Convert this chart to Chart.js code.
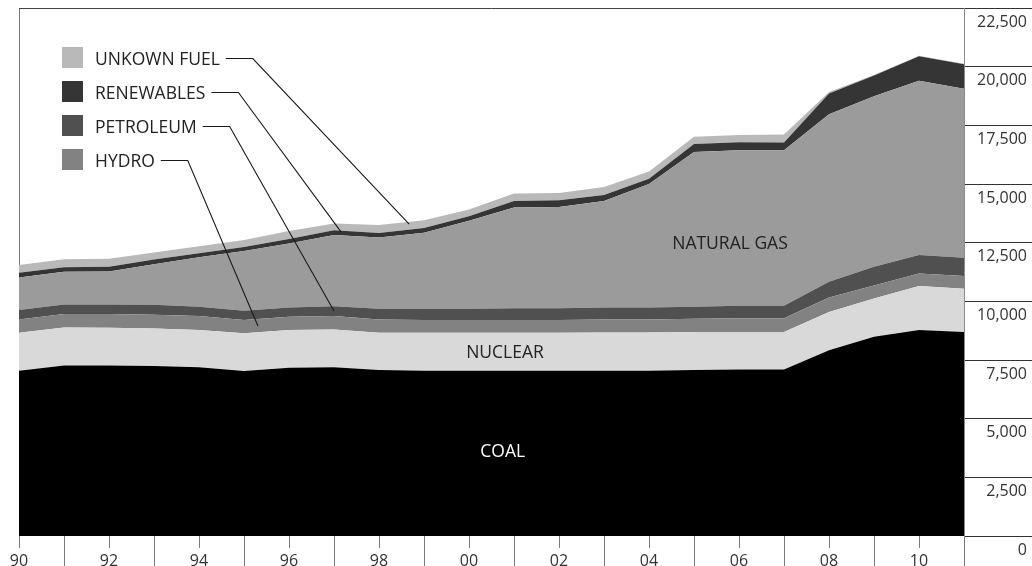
<!DOCTYPE html>
<html>
<head>
<meta charset="utf-8">
<script src="https://cdn.jsdelivr.net/npm/chart.js@4.4.1/dist/chart.umd.min.js"></script>
<style>
  html, body { margin: 0; padding: 0; background: #fff; }
  #wrap { width: 1032px; height: 566px; }
</style>
</head>
<body>
<div id="wrap"><canvas id="c" width="1032" height="566"></canvas></div>
<script>
// ---- Data ----
const years = ['90','91','92','93','94','95','96','97','98','99','00','01','02','03','04','05','06','07','08','09','10','11'];

const coal       = [7040, 7270, 7270, 7240, 7190, 7030, 7170, 7190, 7070, 7040, 7040, 7040, 7040, 7040, 7040, 7070, 7100, 7100, 7920, 8490, 8780, 8690];
const nuclear    = [1620, 1620, 1605, 1605, 1590, 1605, 1605, 1615, 1590, 1620, 1620, 1620, 1620, 1635, 1635, 1620, 1590, 1590, 1630, 1635, 1870, 1845];
const hydro      = [570, 565, 580, 580, 595, 570, 565, 565, 570, 540, 540, 540, 540, 555, 555, 570, 585, 585, 615, 555, 540, 540];
const petroleum  = [400, 415, 415, 425, 395, 395, 400, 425, 450, 480, 480, 500, 510, 510, 510, 510, 535, 535, 665, 790, 780, 780];
const naturalGas = [1390, 1390, 1405, 1735, 2105, 2545, 2725, 3035, 3040, 3240, 3750, 4300, 4315, 4540, 5255, 6590, 6630, 6630, 7145, 7270, 7425, 7200];
const renewables = [200, 190, 195, 200, 170, 170, 195, 200, 195, 200, 200, 280, 285, 255, 225, 340, 340, 325, 880, 880, 1050, 1050];
const unknownFuel = [330, 340, 340, 300, 300, 300, 340, 285, 340, 340, 285, 315, 310, 340, 315, 310, 310, 340, 70, 25, 20, 20];

const yMax = 22500;
const yStep = 2500;

// legend entries with leader targets (in data units: year index, value)
const legendLabels  = ['UNKOWN FUEL', 'RENEWABLES', 'PETROLEUM', 'HYDRO'];
const legendColors  = ['#b9b9b9', '#353535', '#505050', '#828282'];
const leaderIndex   = [8.67, 7.16, 7.0, 5.31];
const leaderValue   = [13290, 12950, 9585, 8946];

// in-chart series labels (data units)
const areaLabels    = ['NATURAL GAS', 'NUCLEAR', 'COAL'];
const areaLabelIdx  = [15.8, 10.8, 10.75];
const areaLabelVal  = [12480, 7840, 3620];
const areaLabelCol  = ['#222', '#222', '#fff'];

const FONT = '"Open Sans", "Noto Sans", sans-serif';

function ds(label, data, color, fill) {
  return {
    label, data,
    backgroundColor: color,
    borderColor: color,
    borderWidth: 0,
    pointRadius: 0,
    pointHoverRadius: 0,
    tension: 0,
    fill
  };
}

const annotate = {
  id: 'annotate',
  afterDraw(chart) {
    const ctx = chart.ctx;
    const xs = chart.scales.x, ys = chart.scales.y;
    ctx.save();
    ctx.font = '17.5px ' + FONT;
    ctx.textAlign = 'center';
    ctx.textBaseline = 'alphabetic';
    areaLabels.forEach((t, i) => {
      const px = xs.getPixelForValue(areaLabelIdx[i]);
      const py = ys.getPixelForValue(areaLabelVal[i]);
      ctx.fillStyle = areaLabelCol[i];
      ctx.fillText(t, px, py + 6.3);
    });
    ctx.textAlign = 'left';
    const swX = 62, swSize = 21, textX = 95, firstTop = 47, rowH = 34;
    legendLabels.forEach((t, i) => {
      const top = firstTop + i * rowH;
      ctx.fillStyle = legendColors[i];
      ctx.fillRect(swX, top, swSize, swSize);
      const base = top + 17.5;
      ctx.fillStyle = '#222';
      ctx.fillText(t, textX, base);
      const w = ctx.measureText(t).width;
      const ly = base - 6;
      const sx = textX + w + 6;
      const cx = sx + 27;
      const tx = xs.getPixelForValue(leaderIndex[i]);
      const ty = ys.getPixelForValue(leaderValue[i]);
      ctx.beginPath();
      ctx.strokeStyle = '#1a1a1a';
      ctx.lineWidth = 1.1;
      ctx.moveTo(sx, ly);
      ctx.lineTo(cx, ly);
      ctx.lineTo(tx, ty);
      ctx.stroke();
    });
    ctx.restore();
  }
};

function build() {
  new Chart(document.getElementById('c'), {
    type: 'line',
    data: {
      labels: years,
      datasets: [
        ds('COAL', coal, '#000000', 'origin'),
        ds('NUCLEAR', nuclear, '#d9d9d9', '-1'),
        ds('HYDRO', hydro, '#828282', '-1'),
        ds('PETROLEUM', petroleum, '#505050', '-1'),
        ds('NATURAL GAS', naturalGas, '#9b9b9b', '-1'),
        ds('RENEWABLES', renewables, '#353535', '-1'),
        ds('UNKOWN FUEL', unknownFuel, '#b9b9b9', '-1')
      ]
    },
    options: {
      responsive: false,
      animation: false,
      devicePixelRatio: 1,
      layout: { padding: { left: 19, top: 8, right: 0, bottom: 0 } },
      plugins: { legend: { display: false }, tooltip: { enabled: false } },
      elements: { line: { borderWidth: 0 } },
      scales: {
        x: {
          z: 1,
          offset: false,
          border: { display: false },
          grid: {
            drawOnChartArea: true,
            color: c => (c.index === 0 ? '#7a7a7a' : 'rgba(0,0,0,0)'),
            tickColor: '#7a7a7a',
            tickLength: 30,
            lineWidth: 1
          },
          ticks: {
            autoSkip: false,
            maxRotation: 0,
            minRotation: 0,
            padding: -14,
            color: '#333',
            font: { family: FONT, size: 16 },
            callback: (v, i) => (i % 2 === 0 ? years[i] : ''),
            showLabelBackdrop: true,
            backdropColor: c => (c.index % 2 === 0 ? '#ffffff' : 'rgba(0,0,0,0)'),
            backdropPadding: { top: 4, bottom: 4, left: 2, right: 2 }
          },
          afterFit: s => { s.height = 30; }
        },
        y: {
          z: 1,
          position: 'right',
          stacked: true,
          min: 0,
          max: yMax,
          border: { display: true, color: '#8a8a8a', width: 1 },
          grid: {
            drawOnChartArea: true,
            color: c => (c.tick && c.tick.value === yMax ? '#444' : 'rgba(0,0,0,0)'),
            tickColor: '#333',
            tickLength: 68,
            lineWidth: 1
          },
          ticks: {
            autoSkip: false,
            stepSize: yStep,
            mirror: true,
            padding: 63,
            labelOffset: 14,
            color: '#333',
            font: { family: FONT, size: 16 },
            callback: v => Number(v).toLocaleString('en-US')
          },
          afterFit: s => { s.width = 68; s.paddingTop = 0; s.paddingBottom = 0; }
        }
      }
    },
    plugins: [annotate]
  });
}

Promise.all([
  document.fonts.load('16px "Open Sans"'),
  document.fonts.load('17.5px "Open Sans"')
]).then(build, build);
</script>
</body>
</html>
